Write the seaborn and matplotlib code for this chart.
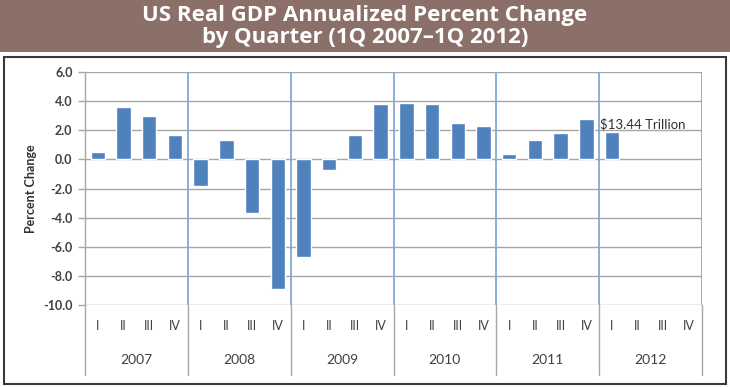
import numpy as np
import pandas as pd
import matplotlib.pyplot as plt
import matplotlib.transforms as mtransforms
from matplotlib.patches import Rectangle
import seaborn as sns

# data
years = ['2007', '2008', '2009', '2010', '2011', '2012']
quarters = ['I', 'II', 'III', 'IV']
gdp_change = [0.5, 3.6, 3.0, 1.7,
              -1.8, 1.3, -3.7, -8.9,
              -6.7, -0.7, 1.7, 3.8,
              3.9, 3.8, 2.5, 2.3,
              0.4, 1.3, 1.8, 2.8,
              1.9]
y_ticks = [-10, -8, -6, -4, -2, 0, 2, 4, 6]
note_text = '$13.44 Trillion'
note_pos = (19.55, 2.4)

slots = [f'{y} {q}' for y in years for q in quarters]
df = pd.DataFrame({'slot': slots[:len(gdp_change)], 'change': gdp_change})

sns.set_style('white')
plt.rcParams['font.family'] = ['Lato', 'DejaVu Sans']

W, H = 730, 387
fig = plt.figure(figsize=(W / 100, H / 100), dpi=100)

# title band + chart frame
fig.patches.append(Rectangle((0, 1 - 52 / H), 1, 52 / H, transform=fig.transFigure,
                             facecolor='#8a7069', edgecolor='none', zorder=0))
fig.patches.append(Rectangle((4 / W, 3 / H), 722 / W, 327 / H, transform=fig.transFigure,
                             facecolor='none', edgecolor='#3a3a3a', lw=1.5, zorder=0))
fig.text(0.5, 1 - 15 / H, 'US Real GDP Annualized Percent Change', ha='center', va='center',
         color='white', fontsize=16, fontweight='bold', family=['Open Sans', 'DejaVu Sans'])
fig.text(0.5, 1 - 37 / H, 'by Quarter (1Q 2007\u20131Q 2012)', ha='center', va='center',
         color='white', fontsize=16, fontweight='bold', family=['Open Sans', 'DejaVu Sans'])

ax = fig.add_axes([85 / W, 1 - 305 / H, 617 / W, 233 / H])
sns.barplot(data=df, x='slot', y='change', order=slots, color='#4f81bd',
            saturation=1, width=0.56, ax=ax, zorder=3)

ax.set_xlim(-0.5, len(slots) - 0.5)
ax.set_ylim(min(y_ticks), max(y_ticks))
ax.set_yticks(y_ticks)
ax.set_yticklabels([f'{v:.1f}' for v in y_ticks], fontsize=9, fontweight='bold', color='#404040')
ax.yaxis.grid(True, color='#a6a6a6', lw=1)
ax.set_axisbelow(True)
ax.tick_params(axis='y', left=True, length=5, width=1, color='#a6a6a6', pad=4)

ax.set_xticks(range(len(slots)))
ax.set_xticklabels(quarters * len(years), fontsize=9, color='#404040')
ax.tick_params(axis='x', length=0, pad=11)
ax.set_xlabel('')
ax.set_ylabel('Percent Change', fontsize=9, fontweight='bold', color='#303030')
ax.yaxis.set_label_coords(-0.078, 0.5)

for s in ['top', 'right', 'bottom']:
    ax.spines[s].set_visible(False)
ax.spines['left'].set_color('#a6a6a6')
ax.spines['left'].set_linewidth(1)

# year boundaries: blue lines inside the plot, gray separators under it
trans = mtransforms.blended_transform_factory(ax.transData, ax.transAxes)
bounds = np.arange(-0.5, len(slots), len(quarters))
for b in bounds[1:]:
    ax.axvline(b, color='#84a8d4', lw=1.3, zorder=2)
for b in bounds:
    ax.plot([b, b], [0, -70 / 233], transform=trans, color='#a6a6a6', lw=1, clip_on=False)
for i, y in enumerate(years):
    ax.text(i * 4 + 1.5, -55 / 233, y, transform=trans, ha='center', va='center',
            fontsize=10, color='#404040')

ax.text(*note_pos, note_text, ha='left', va='center', fontsize=9.5, color='#303030', zorder=4)

fig.savefig('out.png', dpi=100)
